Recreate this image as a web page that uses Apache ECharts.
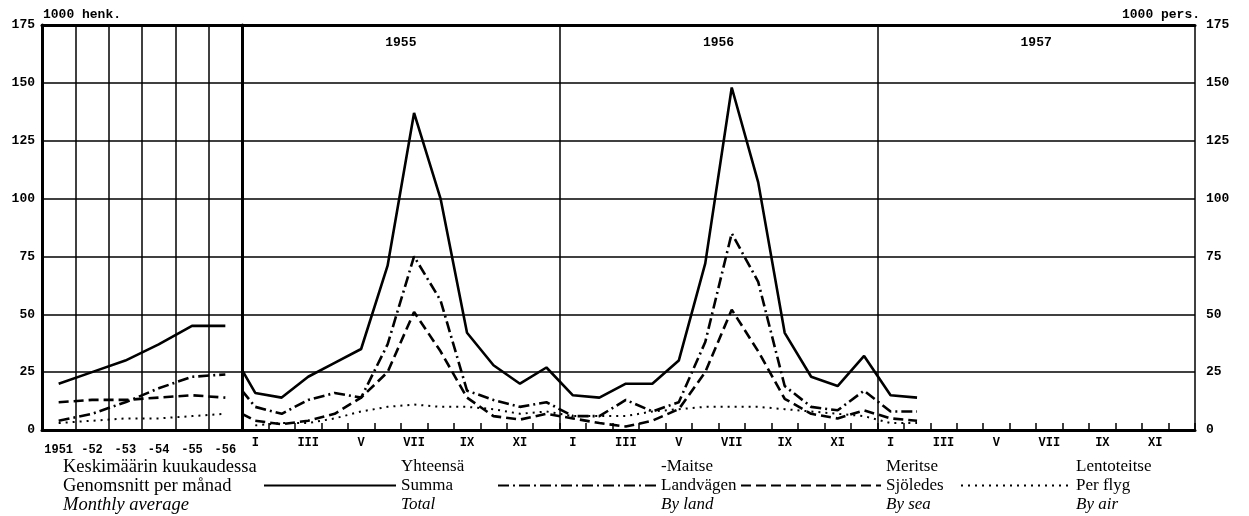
<!DOCTYPE html>
<html>
<head>
<meta charset="utf-8">
<title>Matkustajat</title>
<script src="https://cdn.jsdelivr.net/npm/echarts@6/dist/echarts.min.js"></script>
<style>
  html, body { margin: 0; padding: 0; background: #fff; }
  #chart { width: 1249px; height: 516px; }
</style>
</head>
<body>
<div id="chart"></div>
<script>
// vuosikeskiarvot / yearly averages
var _years = ['1951', '-52', '-53', '-54', '-55', '-56'];
var _year_total = [20, 25, 30, 37, 45, 45];
var _year_land = [4, 7, 12, 18, 23, 24];
var _year_sea = [12, 13, 13, 14, 15, 14];
var _year_air = [3, 4, 5, 5, 6, 7];

// kuukaudet 1955 I - 1957 II
var _sections = ['1955', '1956', '1957'];
var _months = ['I', 'II', 'III', 'IV', 'V', 'VI', 'VII', 'VIII', 'IX', 'X', 'XI', 'XII'];
var _month_total = [16, 14, 23, 29, 35, 71, 137, 100, 42, 28, 20, 27,
                    15, 14, 20, 20, 30, 72, 148, 107, 42, 23, 19, 32,
                    15, 14];
var _month_land = [10, 7, 13, 16, 14, 37, 75, 56, 17, 13, 10, 12,
                   6, 6, 13, 8, 12, 38, 85, 64, 19, 10, 8.5, 17,
                   8, 8];
var _month_sea = [4, 2.5, 4, 7, 14, 25, 51, 34, 14, 6, 4.5, 7,
                  5, 3, 1.5, 4, 9, 25, 52, 34, 13.5, 7, 5, 8.5,
                  5, 4];
var _month_air = [2, 3, 3, 5, 8, 10, 11, 10, 10, 9, 7, 8,
                  6, 6, 6, 8, 9, 10, 10, 10, 9, 8, 7, 6,
                  3, 3];

// arvo jolla viiva tulee 1955-osan vasempaan reunaan
var _edge_total = 26;
var _edge_land = 17;
var _edge_sea = 7;

var _ticks_y = [0, 175, 25];

// selite
var _names = ['Yhteensä', 'Maitse', 'Meritse', 'Lentoteitse'];
var _names_sv = ['Summa', 'Landvägen', 'Sjöledes', 'Per flyg'];
var _names_en = ['Total', 'By land', 'By sea', 'By air'];

var MONO = '"Liberation Mono", "DejaVu Sans Mono", monospace';
var SERIF = '"Liberation Serif", "DejaVu Serif", serif';

var monthCats = [];
for (var k = 0; k < _sections.length; k++) {
  for (var m = 0; m < _months.length; m++) monthCats.push(_months[m]);
}

function monthData(values, edge) {
  var out = [];
  if (edge != null) out.push([0, edge]);
  for (var i = 0; i < values.length; i++) {
    out.push([i + 0.5, values[i]]);
  }
  return out;
}

var styles = [
  {width: 2.6, type: 'solid'},
  {width: 2.6, type: [11, 4, 2, 4]},
  {width: 2.6, type: [10, 5]},
  {width: 2, type: [2, 5]}
];

var yearSets = [_year_total, _year_land, _year_sea, _year_air];
var monthSets = [_month_total, _month_land, _month_sea, _month_air];
var edges = [_edge_total, _edge_land, _edge_sea, null];

var series = [];
for (var s = 0; s < 4; s++) {
  series.push({
    name: _names[s], type: 'line', xAxisIndex: 0, yAxisIndex: 0,
    data: yearSets[s], symbol: 'none', silent: true,
    itemStyle: {color: '#000'},
    lineStyle: {color: '#000', width: styles[s].width, type: styles[s].type}
  });
  series.push({
    name: _names[s], type: 'line', xAxisIndex: 3, yAxisIndex: 1,
    data: monthData(monthSets[s], edges[s]), symbol: 'none', silent: true,
    itemStyle: {color: '#000'},
    lineStyle: {color: '#000', width: styles[s].width, type: styles[s].type}
  });
}

function richFor(size) {
  return {
    a: {fontFamily: SERIF, fontSize: size, fontWeight: 'normal', lineHeight: 19, color: '#000'},
    b: {fontFamily: SERIF, fontSize: size, fontWeight: 'normal', lineHeight: 19, color: '#000', fontStyle: 'italic'}
  };
}

var legendX = [263, 497, 740, 960];
var legendW = [132, 158, 140, 110];
var legends = [];
for (var l = 0; l < 4; l++) {
  legends.push({
    data: [_names[l]],
    left: legendX[l], top: 458, padding: 0,
    itemWidth: legendW[l], itemHeight: 12,
    selectedMode: false,
    itemStyle: {opacity: 0},
    formatter: (function(idx) {
      return function() {
        var fi = idx == 1 ? '-' + _names[idx] : _names[idx];
        return '{a|' + fi + '}\n{a|' + _names_sv[idx] + '}\n{b|' + _names_en[idx] + '}';
      };
    })(l),
    textStyle: {color: '#000', rich: richFor(17)}
  });
}

var gridLine = {show: true, lineStyle: {color: '#000', width: 1.5}};
var thick = {show: true, lineStyle: {color: '#000', width: 3}};
var unitStyle = {fontFamily: MONO, fontSize: 13, fontWeight: 'bold', color: '#000'};

var option = {
  backgroundColor: '#fff',
  animation: false,
  title: [
    {
      left: 63, top: 458, padding: 0,
      text: '{a|Keskimäärin kuukaudessa}\n{a|Genomsnitt per månad}\n{b|Monthly average}',
      textStyle: {fontWeight: 'normal', rich: richFor(18.5)}
    },
    {left: 43, top: 8, padding: 0, text: '1000 henk.', textStyle: unitStyle},
    {right: 49, top: 8, padding: 0, text: '1000 pers.', textStyle: unitStyle}
  ],
  legend: legends,
  grid: [
    {left: 42, top: 25, width: 200, height: 405},
    {left: 242, top: 25, width: 953, height: 405}
  ],
  xAxis: [
    {
      gridIndex: 0, type: 'category', data: _years, boundaryGap: true,
      axisLine: thick, axisTick: {show: false},
      axisLabel: {fontFamily: MONO, fontSize: 12, fontWeight: 'bold', color: '#000', margin: 14, interval: 0},
      splitLine: {show: true, showMaxLine: false, lineStyle: {color: '#000', width: 1.5}}
    },
    {
      gridIndex: 0, type: 'category', data: _years, position: 'top',
      axisLine: thick, axisTick: {show: false}, axisLabel: {show: false}
    },
    {
      gridIndex: 1, type: 'category', data: monthCats, boundaryGap: true,
      axisLine: thick,
      axisTick: {show: true, inside: true, length: 7, interval: 0, lineStyle: {color: '#000', width: 1.5}},
      axisLabel: {fontFamily: MONO, fontSize: 12, fontWeight: 'bold', color: '#000', margin: 7, interval: 1},
      splitLine: {show: false}
    },
    {
      gridIndex: 1, type: 'value', min: 0, max: 36, interval: 12, position: 'bottom',
      axisLine: {show: false}, axisTick: {show: false}, axisLabel: {show: false},
      splitLine: gridLine
    },
    {
      gridIndex: 1, type: 'category', data: _sections, position: 'top',
      axisLine: thick, axisTick: {show: false},
      axisLabel: {inside: true, margin: 11, fontFamily: MONO, fontSize: 13, fontWeight: 'bold', color: '#000'}
    }
  ],
  yAxis: [
    {
      gridIndex: 0, type: 'value', min: _ticks_y[0], max: _ticks_y[1], interval: _ticks_y[2],
      axisLine: thick, axisTick: {show: false},
      axisLabel: {fontFamily: MONO, fontSize: 13, fontWeight: 'bold', color: '#000', margin: 7},
      splitLine: gridLine
    },
    {
      gridIndex: 1, type: 'value', position: 'right', min: _ticks_y[0], max: _ticks_y[1], interval: _ticks_y[2],
      axisLine: thick, axisTick: {show: false},
      axisLabel: {fontFamily: MONO, fontSize: 13, fontWeight: 'bold', color: '#000', margin: 11},
      splitLine: gridLine
    }
  ],
  series: series
};

var myChart = echarts.init(document.getElementById('chart'));
myChart.setOption(option);
</script>
</body>
</html>
